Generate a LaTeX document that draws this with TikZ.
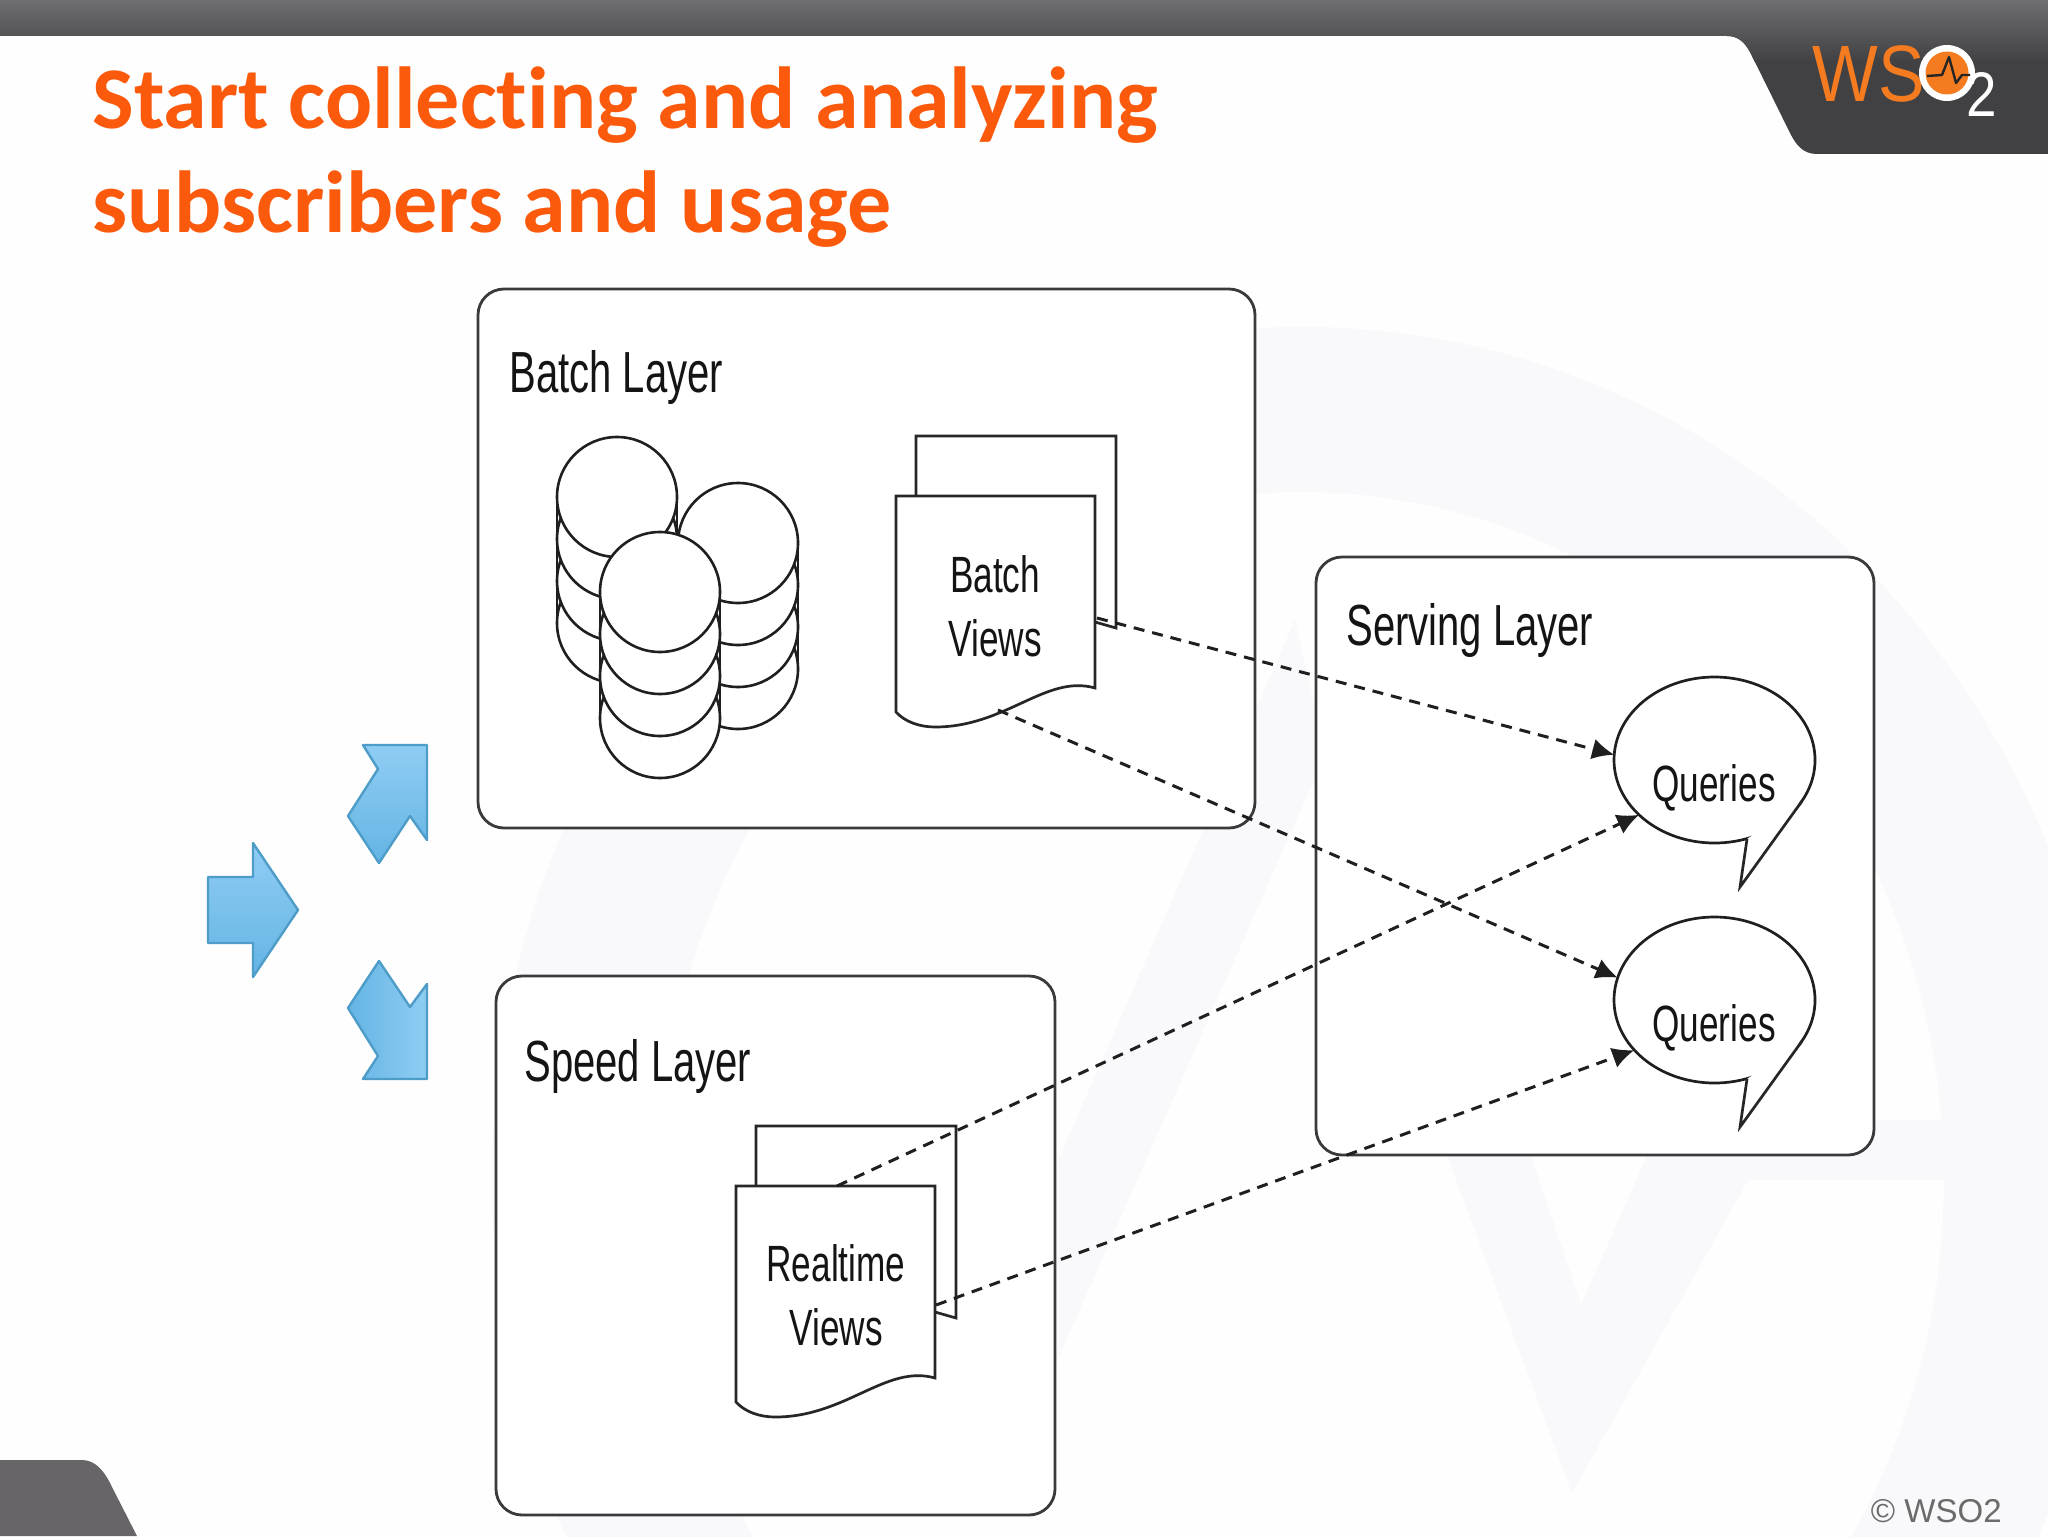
\documentclass[tikz,border=0pt]{standalone}
\usepackage{fontspec}
\usepackage{tikz}
\usetikzlibrary{arrows.meta}
\usetikzlibrary{shapes.geometric}
\setmainfont{Liberation Sans}
\newfontfamily\titlefont[Ligatures=NoCommon]{Carlito}
\newfontfamily\diagramfont[FakeStretch=0.69]{Liberation Sans}
\newfontfamily\logofont[FakeStretch=0.87]{Liberation Sans}

\definecolor{slidebg}{HTML}{FEFEFE}
\definecolor{markgrey}{HTML}{F9F8FA}
\definecolor{bandtop}{HTML}{6E6D6F}
\definecolor{banddark}{HTML}{414042}
\definecolor{cornergrey}{HTML}{676567}
\definecolor{titleorange}{HTML}{FB5A0C}
\definecolor{logoorange}{HTML}{F47B20}
\definecolor{arrowlight}{HTML}{8FCDF3}
\definecolor{arrowdark}{HTML}{64B4E5}
\definecolor{arrowedge}{HTML}{4E9CC8}
\definecolor{boxline}{HTML}{3A3A3C}

\newcommand{\dbstack}[2]{
  \fill[white] (#1-60,#2) rectangle (#1+60,#2+126);
  \draw[dbline] (#1-60,#2) -- (#1-60,#2+126) (#1+60,#2) -- (#1+60,#2+126);
  \foreach \k in {3,2,1,0}
    \draw[dbline, fill=white] (#1,#2+\k*42) circle (60);
}
\newcommand{\viewdoc}[2]{
  \begin{scope}[shift={(#1,#2)}]
    \draw[docline, fill=white] (20,0) -- (20,-60) -- (220,-60) -- (220,132) -- (199,126);
    \draw[docline, fill=white] (0,0) -- (199,0) -- (199,192)
      .. controls (150,178) and (110,231) .. (39,231)
      .. controls (24,231) and (9,226) .. (0,216) -- cycle;
  \end{scope}
}
\newcommand{\querybubble}[2]{
  \node[bubble] (#1) at (1714.5,#2) {};
  \draw[docline, fill=white] (1747,#2+79) -- (1740,#2+127) -- (1802,#2+41);
  \node[difftext, anchor=base] (#1text) at (1714,#2+41) {Queries};
}

\begin{document}
\begin{tikzpicture}[x=0.5pt, y=-0.5pt]

\tikzstyle{layerbox}=[rectangle, rounded corners=13pt, draw=boxline, line width=1.4pt,
  fill=white, inner sep=0pt, outer sep=0pt]
\tikzstyle{layertext}=[font=\diagramfont\fontsize{29}{35}\selectfont, inner sep=0pt,
  anchor=base west, text=black!92]
\tikzstyle{difftext}=[font=\diagramfont\fontsize{25.5}{32}\selectfont, inner sep=0pt,
  align=center, text=black!92]
\tikzstyle{titletext}=[font=\titlefont\bfseries\fontsize{44}{53}\selectfont, inner sep=0pt,
  anchor=base west, text=titleorange]
\tikzstyle{dbline}=[draw=black!88, line width=1.3pt]
\tikzstyle{docline}=[draw=black!85, line width=1.35pt]
\tikzstyle{bubble}=[ellipse, draw=black!88, line width=1.35pt, fill=white,
  minimum width=100.5pt, minimum height=83pt, inner sep=0pt, outer sep=0pt]
\tikzstyle{arrdash}=[-{Latex[length=11pt, width=10.5pt]}, draw=black!88, line width=1.5pt,
  dash pattern=on 5.5pt off 4pt]
\tikzstyle{blockarrow}=[draw=arrowedge, line width=1.2pt, line join=round]

\useasboundingbox (0,0) rectangle (2048,1536);
\fill[slidebg] (0,0) rectangle (2048,1536);

\begin{scope}
  \clip (0,0) rectangle (2048,1536);
  \fill[markgrey, even odd rule] (1302,1180) ellipse (810 and 853)
    (1302,1180) ellipse (642 and 688);
  \fill[markgrey] (1295,620) -- (1325,755) -- (1000,1490) -- (914,1490) -- cycle;
  \fill[markgrey] (1434,1120) -- (1519,1120) -- (1581,1305) -- (1663,1120) -- (1950,1120)
    -- (1944,1180) -- (1748,1180) -- (1572,1493) -- cycle;
\end{scope}

\begin{scope}
  \clip (0,0) -- (2048,0) -- (2048,154) -- (1817,154)
    .. controls (1803,154) and (1796,145) .. (1790,133) -- (1750,52)
    .. controls (1744,41) and (1737,36) .. (1727,36) -- (0,36) -- cycle;
  \fill[banddark] (0,0) rectangle (2048,154);
  \shade[top color=bandtop, bottom color=banddark] (0,0) rectangle (2048,62);
\end{scope}
\fill[cornergrey] (0,1460) -- (82,1460) .. controls (96,1460) and (105,1472) .. (112,1487)
  -- (137,1536) -- (0,1536) -- cycle;

\node[font=\logofont\fontsize{40}{40}\selectfont, text=logoorange, inner sep=0pt,
  anchor=base west] (logows) at (1812,102) {WS};
\fill[white] (1947,73) circle (28);
\fill[logoorange] (1947,73) circle (21.5);
\draw[black!85, line width=1.2pt, line join=round] (1927,76) -- (1942,75) -- (1949,57)
  -- (1956,83) -- (1962,75) -- (1970,75);
\node[font=\logofont\fontsize{31.5}{32}\selectfont, text=white, inner sep=0pt,
  anchor=base] (logotwo) at (1982,117) {2};

\node[titletext] (titleone) at (92,128) {Start collecting and analyzing};
\node[titletext] (titletwo) at (92,232) {subscribers and usage};

\draw[blockarrow, top color=arrowlight, bottom color=arrowdark] (208,877) -- (253,877)
  -- (253,843) -- (298,910) -- (253,977) -- (253,943) -- (208,943) -- cycle;
\draw[blockarrow, top color=arrowlight, bottom color=arrowdark] (363,745) -- (427,745)
  -- (427,840) -- (410,816) -- (379,863) -- (348,816) -- (378,769) -- cycle;
\draw[blockarrow, left color=arrowdark, right color=arrowlight] (379,961) -- (410,1007)
  -- (427,984) -- (427,1079) -- (363,1079) -- (378,1056) -- (348,1008) -- cycle;

\node[layerbox, minimum width=388.5pt, minimum height=269.5pt] (batch) at (866.5,558.5) {};
\node[layerbox, minimum width=279.5pt, minimum height=269.5pt] (speed) at (775.5,1245.5) {};
\node[layerbox, minimum width=279pt, minimum height=299pt] (serving) at (1595,856) {};

\node[layertext] (batchtitle) at (509,392) {Batch Layer};
\node[layertext] (speedtitle) at (524,1081) {Speed Layer};
\node[layertext] (servingtitle) at (1346,645) {Serving Layer};

\dbstack{617}{497}
\dbstack{738}{543}
\dbstack{660}{592}

\viewdoc{896}{496}
\node[difftext] (batchviews) at (995,606) {Batch\\Views};
\viewdoc{736}{1186}
\node[difftext] (realtimeviews) at (836,1295) {Realtime\\Views};

\querybubble{queryone}{760}
\querybubble{querytwo}{1000}

\coordinate (batchout) at (1097,618);
\coordinate (batchfoot) at (998,710);
\coordinate (realtimetop) at (837,1186);
\coordinate (realtimeside) at (936,1305);

\draw[arrdash] (batchout) -- (queryone.177);
\draw[arrdash] (batchfoot) -- (querytwo.167);
\draw[arrdash] (realtimetop) -- (queryone.216);
\draw[arrdash] (realtimeside) -- (querytwo.212);

\node[font=\fontsize{16.5}{19}\selectfont, text=black!58, inner sep=0pt,
  anchor=base east] (copyrightmark) at (2002,1522) {© WSO2};

\end{tikzpicture}
\end{document}
